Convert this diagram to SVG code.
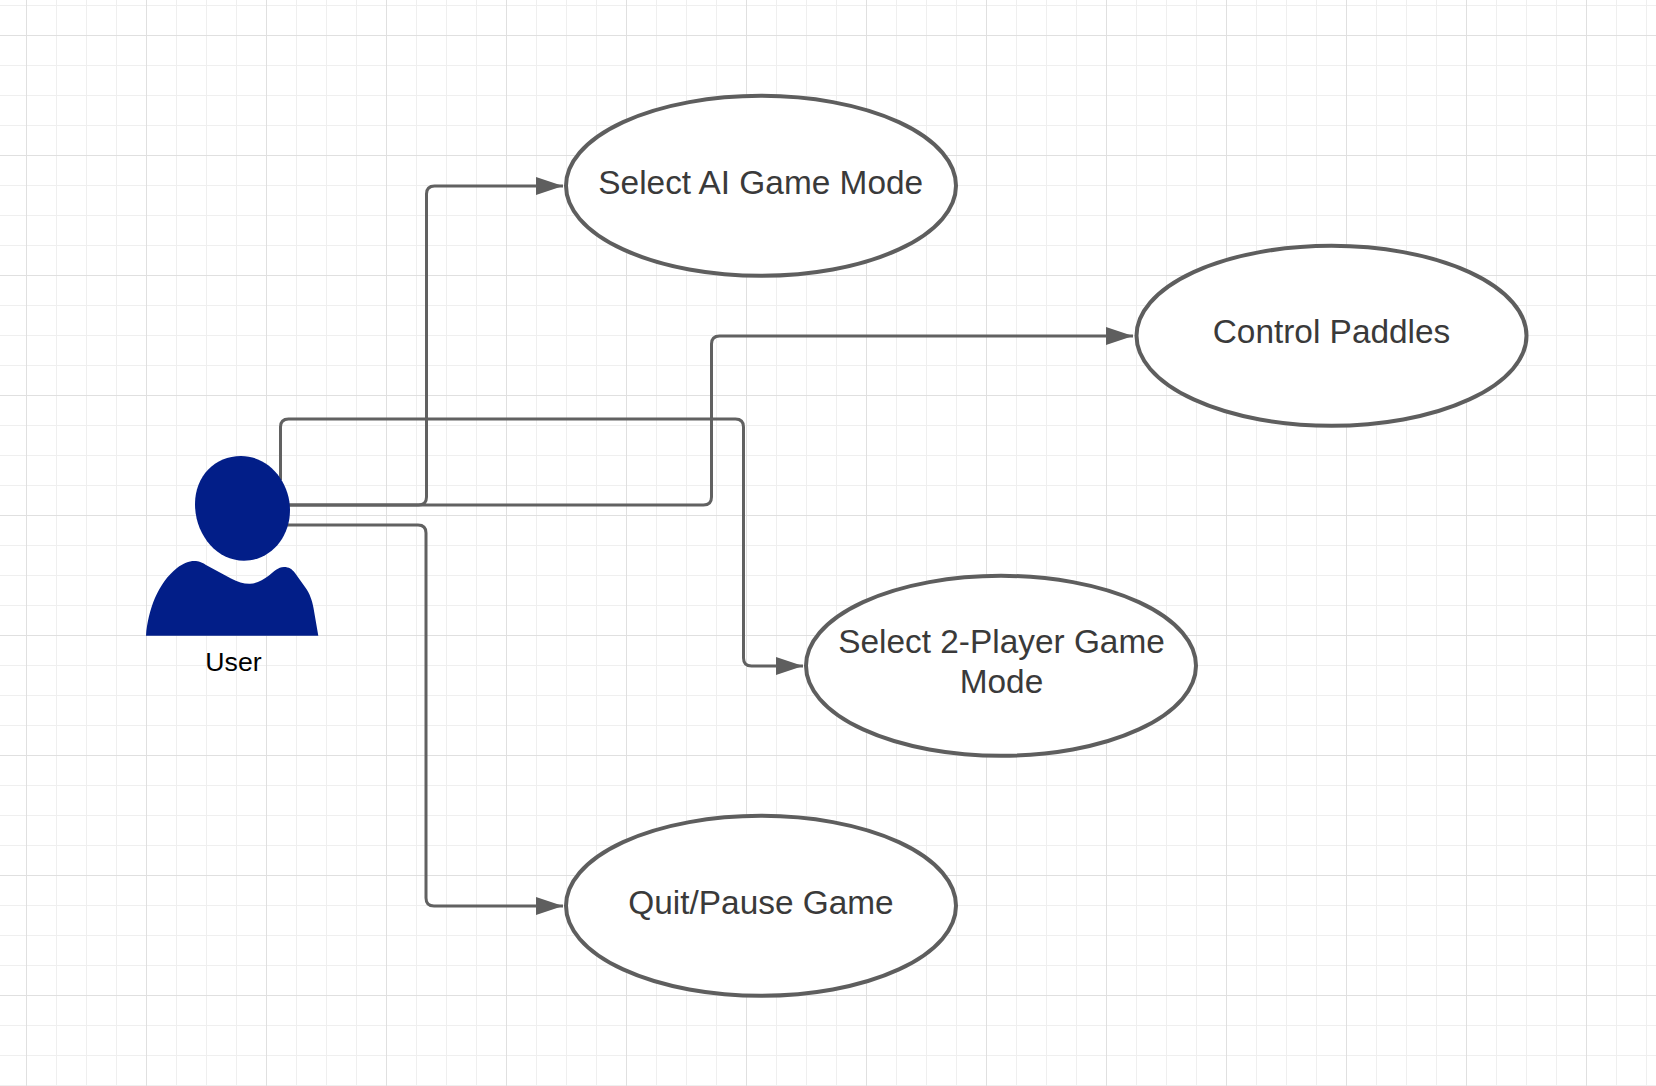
<svg xmlns="http://www.w3.org/2000/svg" width="1656" height="1086" viewBox="0 0 1656 1086">
  <style>
    .minor { stroke: #efefef; stroke-width: 1; fill: none; }
    .major { stroke: #e0e0e0; stroke-width: 1; fill: none; }
    .conn { stroke: #616161; stroke-width: 3; fill: none; marker-end: url(#arrow); }
    .oval { fill: #ffffff; stroke: #5e5e5e; stroke-width: 4; }
    .label { font-family: "Liberation Sans", Arial, sans-serif; font-size: 33.4px; fill: #3a3a3a; text-anchor: middle; }
    .actor-label { font-family: "Liberation Sans", Arial, sans-serif; font-size: 26.67px; fill: #000000; text-anchor: middle; }
    .person { fill: #021e88; }
  </style>
  <defs>
    <marker id="arrow" markerUnits="userSpaceOnUse" markerWidth="28" markerHeight="20" viewBox="0 0 28 20" refX="27" refY="10" orient="auto">
      <path d="M0 1 L27 10 L0 19 Z" fill="#5e5e5e"/>
    </marker>
    <pattern id="gridMinor" patternUnits="userSpaceOnUse" x="26" y="5" width="30" height="30">
      <path class="minor" d="M0.5 0 V30 M0 0.5 H30"/>
    </pattern>
    <pattern id="gridMajor" patternUnits="userSpaceOnUse" x="26" y="35" width="120" height="120">
      <path class="major" d="M0.5 0 V120 M0 0.5 H120"/>
    </pattern>
  </defs>
  <g id="background">
    <rect width="1656" height="1086" fill="#ffffff"/>
    <rect width="1656" height="1086" fill="url(#gridMinor)"/>
    <rect width="1656" height="1086" fill="url(#gridMajor)"/>
  </g>
  <g id="connectors">
    <path id="c-ai" class="conn" d="M280 505 H418.5 Q426.5 505 426.5 497 V194 Q426.5 186 434.5 186 H563"/>
    <path id="c-paddles" class="conn" d="M280 505 H703.5 Q711.5 505 711.5 497 V344 Q711.5 336 719.5 336 H1133"/>
    <path id="c-2p" class="conn" d="M280.5 480 V427 Q280.5 419 288.5 419 H735.5 Q743.5 419 743.5 427 V658 Q743.5 666 751.5 666 H803"/>
    <path id="c-quit" class="conn" d="M280 525 H418 Q426 525 426 533 V898 Q426 906 434 906 H563"/>
  </g>
  <g id="node-user">
    <path class="person" d="M195 504 C195 476 215 456 241 456 C269 456 290 482 290 510 C290 538 270 560.7 244 560.7 C216 560.7 195 534 195 504 Z"/>
    <path class="person" d="M146 635.7 C148 610 158 583 177 568 C184 562.5 190 560.5 196 561 C200 561.5 203 563 206 565 L231 578.5 C238 582 244 584 250 583.8 C257 583.5 263 580 269 575.5 C274 571.5 278 567 284 567 C289 567 292 569 295 573 L305 587 C310 594 312 600 313.5 608 L318.3 635.7 Z"/>
    <text class="actor-label" x="233.5" y="670.6">User</text>
  </g>
  <g id="node-ai">
    <ellipse class="oval" cx="761" cy="185.8" rx="195" ry="90"/>
    <text class="label" x="760.7" y="194">Select AI Game Mode</text>
  </g>
  <g id="node-paddles">
    <ellipse class="oval" cx="1331.5" cy="335.8" rx="195" ry="90"/>
    <text class="label" x="1331.5" y="343">Control Paddles</text>
  </g>
  <g id="node-2p">
    <ellipse class="oval" cx="1001" cy="665.8" rx="195" ry="90"/>
    <text class="label" x="1001.5" y="652.5">Select 2-Player Game</text>
    <text class="label" x="1001.5" y="692.5">Mode</text>
  </g>
  <g id="node-quit">
    <ellipse class="oval" cx="761" cy="905.8" rx="195" ry="90"/>
    <text class="label" x="761" y="913.5">Quit/Pause Game</text>
  </g>
</svg>
